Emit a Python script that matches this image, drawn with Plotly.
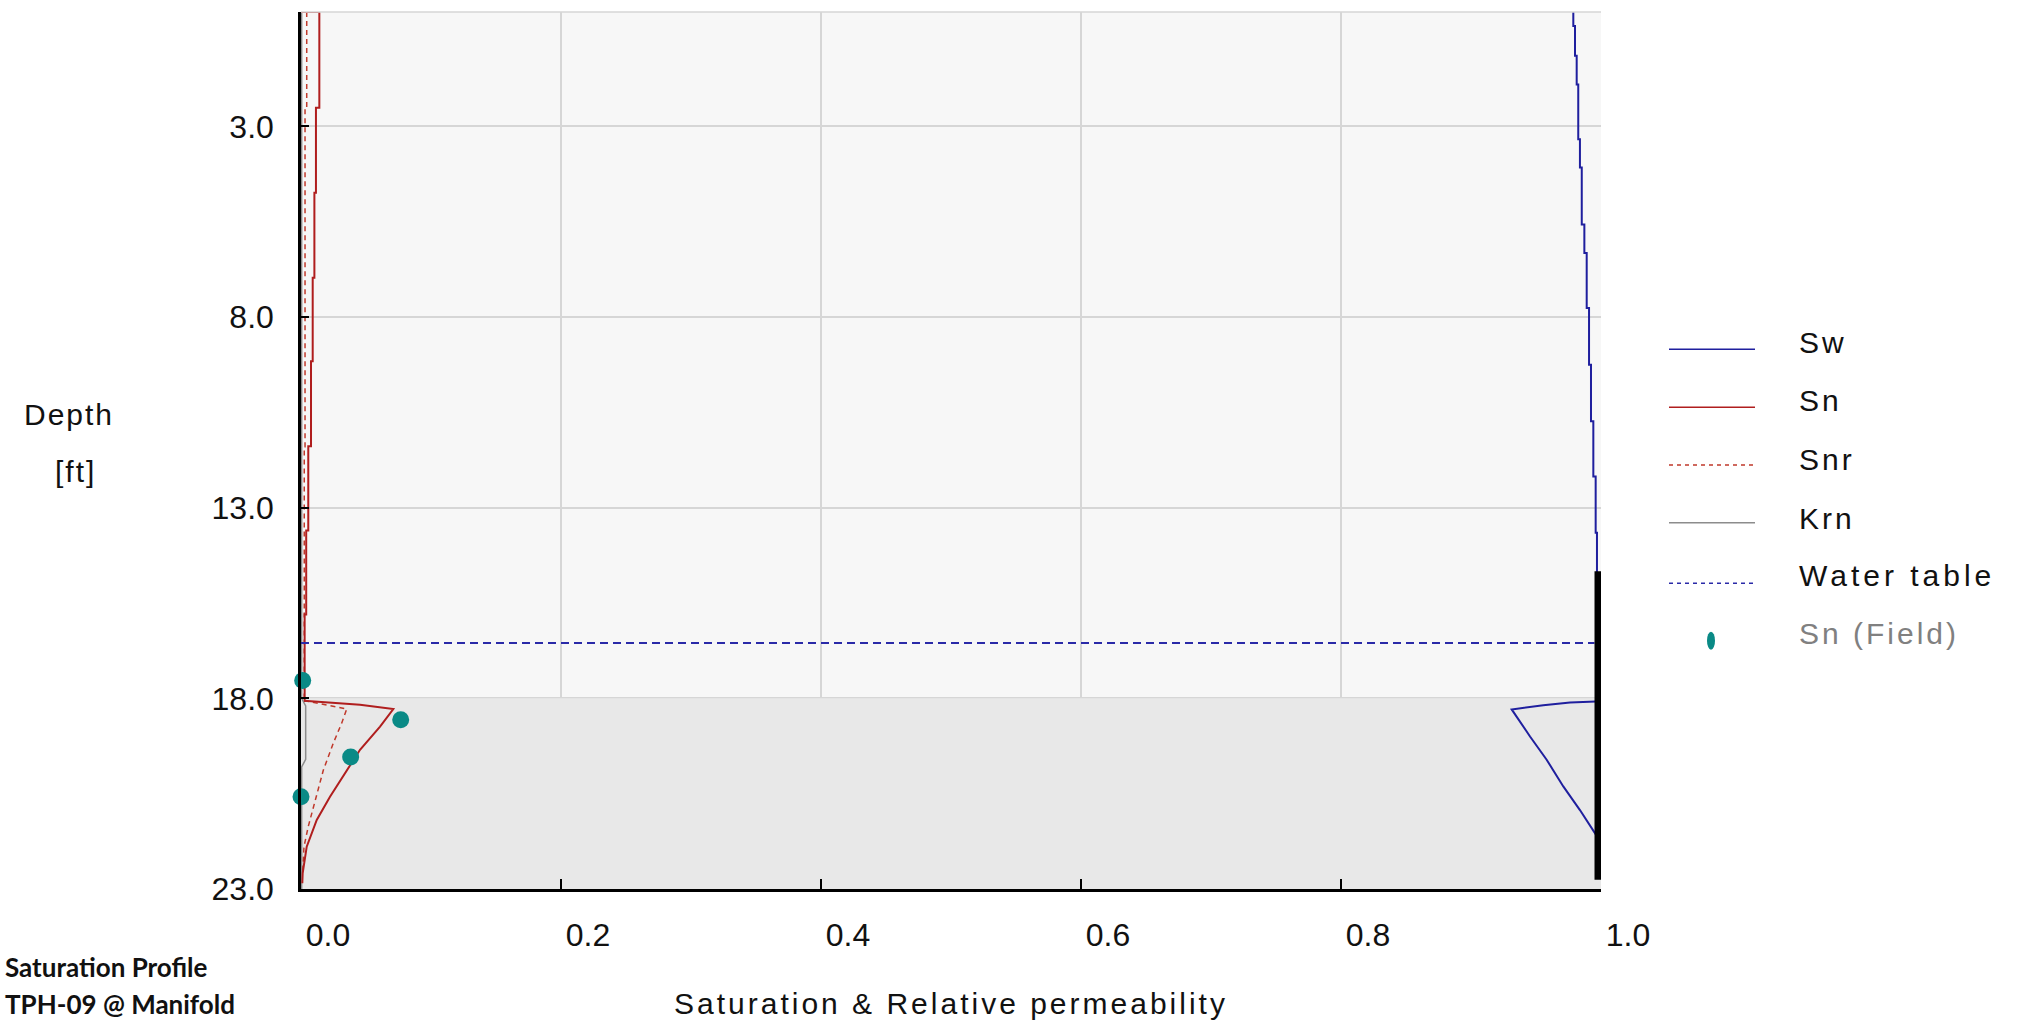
import plotly.graph_objects as go

# ---------------- data ----------------
# Water saturation, upper stepped part (depth ft, value)
SW_STEP_DEPTH = [0.0, 0.37, 1.15, 1.90, 3.34, 4.08, 5.57, 6.32, 7.76, 9.25, 10.73, 12.18, 13.66, 18.08]
SW_STEP_VAL = [0.9787, 0.9800, 0.9813, 0.9825, 0.9838, 0.9852, 0.9872, 0.9890, 0.9908, 0.9923, 0.9941, 0.9959, 0.9969, 0.9969]
# Water saturation, lower part
SW_CURVE_DEPTH = [18.08, 18.11, 18.18, 18.24, 18.29, 19.00, 19.61, 20.31, 20.93, 21.58]
SW_CURVE_VAL = [0.9962, 0.9762, 0.9556, 0.9402, 0.9313, 0.9454, 0.9582, 0.9710, 0.9838, 0.9962]

# NAPL saturation
SN_STEP_DEPTH = [0.0, 0.0, 2.51, 4.74, 6.97, 9.16, 11.39, 13.60, 15.80, 18.06]
SN_STEP_VAL = [0.0, 0.0141, 0.0115, 0.0103, 0.0090, 0.0077, 0.0056, 0.0040, 0.0028, 0.0023]
SN_CURVE_DEPTH = [18.06, 18.11, 18.17, 18.28, 18.74, 19.35, 19.88, 20.58, 21.19, 21.89, 22.58, 22.85]
SN_CURVE_VAL = [0.0023, 0.0223, 0.0454, 0.0710, 0.0608, 0.0454, 0.0352, 0.0223, 0.0121, 0.0044, 0.0013, 0.0010]

# Residual NAPL saturation
SNR_STEP_DEPTH = [0.0, 2.51, 11.40, 18.06]
SNR_STEP_VAL = [0.0044, 0.0031, 0.0025, 0.0023]
SNR_CURVE_DEPTH = [18.06, 18.28, 18.65, 19.18, 19.88, 20.66, 21.36, 21.89, 22.58]
SNR_CURVE_VAL = [0.0023, 0.0352, 0.0313, 0.0248, 0.0172, 0.0108, 0.0056, 0.0023, 0.0013]

# Relative permeability to NAPL
KRN_DEPTH = [0.0, 18.0, 18.2, 19.6, 19.8, 23.0]
KRN_VAL = [0.0005, 0.0005, 0.0036, 0.0036, 0.0005, 0.0005]

# Black bar at right
BAR_DEPTH = [14.67, 22.76]
BAR_VAL = [0.9977, 0.9977]

# Water table
WT_DEPTH = 16.55
WT_X = [0.0, 0.995]

# Field measurements of Sn
FIELD_DEPTH = [17.53, 18.56, 19.54, 20.58]
FIELD_SN = [0.0013, 0.0767, 0.0382, 0.0]

# Soil layer (hatched) top/bottom
LAYER_TOP = 18.0
LAYER_BOTTOM = 23.0

X_TICKS = [0.0, 0.2, 0.4, 0.6, 0.8, 1.0]
Y_TICKS = [3.0, 8.0, 13.0, 18.0, 23.0]

LEGEND_LABELS = ["Sw", "Sn", "Snr", "Krn", "Water table", "Sn (Field)"]

# ---------------- style ----------------
W, H = 2029, 1027
ML, MR, MT, MB = 301, 428, 12, 138
PW, PH = W - ML - MR, H - MT - MB
FONT = "Liberation Sans, Arial, sans-serif"
C_SW = "#1f1f9e"
C_SN = "#b01e1e"
C_SNR = "#c0392b"
C_KRN = "#8c8c8c"
C_WT = "#2a2aa8"
C_FIELD = "#0a8a86"
GRID = "#d6d6d6"


def px(xp):
    return (xp - ML) / PW


def py(yp):
    return (H - MB - yp) / PH


def spaced(t, s=3):
    return '<span style="letter-spacing:%dpx">%s</span>' % (s, t)


fig = go.Figure()

fig.add_trace(go.Scatter(x=SW_STEP_VAL, y=SW_STEP_DEPTH, mode="lines", line=dict(color=C_SW, width=2, shape="vh"),
                         name="Sw", showlegend=False))
fig.add_trace(go.Scatter(x=SW_CURVE_VAL, y=SW_CURVE_DEPTH, mode="lines", line=dict(color=C_SW, width=2),
                         name="Sw", showlegend=False))
fig.add_trace(go.Scatter(x=KRN_VAL, y=KRN_DEPTH, mode="lines", line=dict(color=C_KRN, width=1.5, shape="linear"),
                         name="Krn", showlegend=False))
fig.add_trace(go.Scatter(x=SNR_STEP_VAL, y=SNR_STEP_DEPTH, mode="lines",
                         line=dict(color=C_SNR, width=1.5, dash="5px,4px", shape="vh"), name="Snr", showlegend=False))
fig.add_trace(go.Scatter(x=SNR_CURVE_VAL, y=SNR_CURVE_DEPTH, mode="lines",
                         line=dict(color=C_SNR, width=1.5, dash="5px,4px"), name="Snr", showlegend=False))
fig.add_trace(go.Scatter(x=SN_STEP_VAL, y=SN_STEP_DEPTH, mode="lines", line=dict(color=C_SN, width=2, shape="vh"),
                         name="Sn", showlegend=False))
fig.add_trace(go.Scatter(x=SN_CURVE_VAL, y=SN_CURVE_DEPTH, mode="lines", line=dict(color=C_SN, width=2),
                         name="Sn", showlegend=False))
fig.add_trace(go.Scatter(x=WT_X, y=[WT_DEPTH, WT_DEPTH], mode="lines", line=dict(color=C_WT, width=2, dash="8px,5px"),
                         name="Water table", showlegend=False))
fig.add_trace(go.Scatter(x=BAR_VAL, y=BAR_DEPTH, mode="lines", line=dict(color="#000000", width=7),
                         showlegend=False, hoverinfo="skip"))
fig.add_trace(go.Scatter(x=FIELD_SN, y=FIELD_DEPTH, mode="markers", cliponaxis=False,
                         marker=dict(color=C_FIELD, size=17, line=dict(width=0)),
                         name="Sn (Field)", showlegend=False))

shapes = [
    dict(type="rect", xref="x", yref="y", x0=0, x1=1, y0=LAYER_TOP, y1=LAYER_BOTTOM,
         fillcolor="#e8e8e8", line=dict(width=0), layer="between"),
    dict(type="line", xref="paper", yref="paper", x0=0, x1=1, y0=1, y1=1, line=dict(color=GRID, width=1.5)),
]

# manual legend
leg_line_y = [349.3, 407.3, 465.0, 522.7, 583.3]
leg_styles = [(C_SW, "solid"), (C_SN, "solid"), (C_SNR, "4px,4px"), (C_KRN, "solid"), (C_WT, "4px,4px")]
for yy, (col, dash) in zip(leg_line_y, leg_styles):
    shapes.append(dict(type="line", xref="paper", yref="paper", x0=px(1669), x1=px(1755), y0=py(yy), y1=py(yy),
                       line=dict(color=col, width=1.5, dash=dash)))
shapes.append(dict(type="circle", xref="paper", yref="paper", xsizemode="pixel", ysizemode="pixel",
                   xanchor=px(1711), yanchor=py(640.7), x0=-4, x1=4, y0=-9, y1=9,
                   fillcolor=C_FIELD, line=dict(width=0)))

annotations = []
leg_text_y = [342, 400.7, 459, 518, 575, 633]
for lab, yy in zip(LEGEND_LABELS, leg_text_y):
    annotations.append(dict(text=spaced(lab, 4 if lab == "Water table" else 3), xref="paper", yref="paper",
                            x=px(1797), y=py(yy), xanchor="left", yanchor="middle", showarrow=False,
                            font=dict(family=FONT, size=30, color="#808080" if lab == "Sn (Field)" else "#111111")))

annotations += [
    dict(text=spaced("Depth", 2), xref="paper", yref="paper", x=px(69), y=py(414), xanchor="center", yanchor="middle",
         showarrow=False, font=dict(family=FONT, size=30, color="#111111")),
    dict(text=spaced("[ft]", 2), xref="paper", yref="paper", x=px(75), y=py(472), xanchor="center", yanchor="middle",
         showarrow=False, font=dict(family=FONT, size=30, color="#111111")),
    dict(text=spaced("Saturation & Relative permeability", 3), xref="paper", yref="paper", x=0.5, y=py(1003),
         xanchor="center", yanchor="middle", showarrow=False, font=dict(family=FONT, size=30, color="#111111")),
    dict(text="<b>Saturation Profile</b>", xref="paper", yref="paper", x=px(3), y=py(967), xanchor="left",
         yanchor="middle", showarrow=False, font=dict(family="Lato, sans-serif", size=26, color="#111111")),
    dict(text="<b>TPH-09 @ Manifold</b>", xref="paper", yref="paper", x=px(3), y=py(1004), xanchor="left",
         yanchor="middle", showarrow=False, font=dict(family="Lato, sans-serif", size=26, color="#111111")),
]

fig.update_layout(
    width=W, height=H, margin=dict(l=ML, r=MR, t=MT, b=MB, pad=0),
    paper_bgcolor="white", plot_bgcolor="#f7f7f7",
    showlegend=False, shapes=shapes, annotations=annotations,
    font=dict(family=FONT, size=32, color="#111111"),
)
fig.update_xaxes(range=[0, 1], tickvals=X_TICKS, tickformat=".1f", showgrid=True, gridcolor=GRID, gridwidth=1.5,
                 zeroline=False, showline=True, linecolor="#000000", linewidth=2.5,
                 ticks="inside", ticklen=10, tickcolor="#000000", tickwidth=1.5,
                 ticklabelshift=27, ticklabelstandoff=16, tickfont=dict(family=FONT, size=32, color="#111111"))
fig.update_yaxes(range=[23, 0], tickvals=Y_TICKS, tickformat=".1f", showgrid=True, gridcolor=GRID, gridwidth=1.5,
                 zeroline=False, showline=True, linecolor="#000000", linewidth=2.5,
                 ticks="inside", ticklen=8, tickcolor="#000000", tickwidth=1.5,
                 ticklabelstandoff=18, tickfont=dict(family=FONT, size=32, color="#111111"))

fig.write_html("out.html", config={"displayModeBar": False},
               post_script="document.body.style.margin='0';document.body.style.overflow='hidden';")
